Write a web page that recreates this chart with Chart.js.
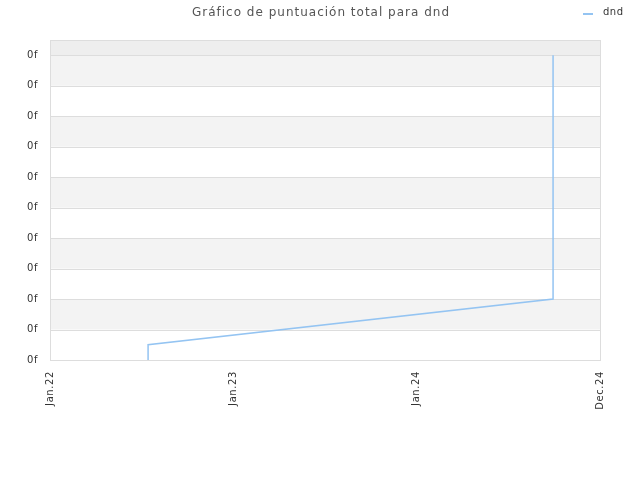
<!DOCTYPE html>
<html>
<head>
<meta charset="utf-8">
<script src="https://cdn.jsdelivr.net/npm/chart.js@4"></script>
<style>
  html, body { margin: 0; padding: 0; background: #fff; }
  #grafico { display: block; }
</style>
</head>
<body>
<canvas id="grafico" width="640" height="480"></canvas>
<script>
// Datos del gráfico
const titulo = 'Gráfico de puntuación total para dnd';
const serieNombre = 'dnd';
const etiquetasX = ['Jan.22', 'Jan.23', 'Jan.24', 'Dec.24'];
const posicionesX = [0, 1, 2, 3];
const valoresX = [0.535, 0.535, 2.744, 2.744];
const valoresY = [0, 0.5, 2, 10];
const ticksY = [0, 1, 2, 3, 4, 5, 6, 7, 8, 9, 10];
const etiquetaY = '0f';

const colorLinea = '#94c4f2';

// Bandas alternas de fondo, título, leyenda y marco
const fondoPlugin = {
    id: 'fondo',
    beforeLayout(chart) {
        chart.ctx.letterSpacing = '0.6px';
    },
    beforeDraw(chart) {
        chart.ctx.letterSpacing = '0.6px';
    },
    beforeDatasetsDraw(chart) {
        const { ctx, chartArea, scales } = chart;
        const y = scales.y;
        ctx.save();
        for (let i = 0; i < ticksY.length - 1; i++) {
            if (i % 2 === 1) {
                const top = y.getPixelForValue(ticksY[i + 1]);
                const bottom = y.getPixelForValue(ticksY[i]);
                ctx.fillStyle = '#f3f3f3';
                ctx.fillRect(chartArea.left, top, chartArea.right - chartArea.left, bottom - top);
            }
        }
        const ultimo = y.getPixelForValue(ticksY[ticksY.length - 1]);
        ctx.fillStyle = '#eeeeee';
        ctx.fillRect(chartArea.left, chartArea.top, chartArea.right - chartArea.left, ultimo - chartArea.top);
        // lineas de la rejilla encima de las bandas
        ctx.strokeStyle = '#dddddd';
        ctx.lineWidth = 1;
        ticksY.forEach(v => {
            const py = Math.round(y.getPixelForValue(v)) + 0.5;
            ctx.beginPath();
            ctx.moveTo(chartArea.left, py);
            ctx.lineTo(chartArea.right, py);
            ctx.stroke();
        });
        ctx.strokeRect(Math.round(chartArea.left) + 0.5, Math.round(chartArea.top) + 0.5,
            Math.round(chartArea.right - chartArea.left), Math.round(chartArea.bottom - chartArea.top));
        ctx.restore();
    },
    afterDraw(chart) {
        const { ctx } = chart;
        ctx.save();
        ctx.letterSpacing = '1px';
        ctx.font = '12px "DejaVu Sans"';
        ctx.fillStyle = '#555555';
        ctx.textAlign = 'center';
        ctx.textBaseline = 'middle';
        ctx.fillText(titulo, 321, 13);

        ctx.strokeStyle = colorLinea;
        ctx.lineWidth = 2;
        ctx.beginPath();
        ctx.moveTo(583, 14);
        ctx.lineTo(593, 14);
        ctx.stroke();
        ctx.letterSpacing = '0.5px';
        ctx.font = '10px "DejaVu Sans"';
        ctx.fillStyle = '#333333';
        ctx.textAlign = 'left';
        ctx.fillText(serieNombre, 603, 12);
        ctx.restore();
    }
};

const puntos = valoresX.map((x, i) => ({ x: x, y: valoresY[i] }));

new Chart(document.getElementById('grafico'), {
    type: 'line',
    data: {
        datasets: [{
            label: serieNombre,
            data: puntos,
            borderColor: colorLinea,
            borderWidth: 1.5,
            pointRadius: 0,
            fill: false,
            tension: 0
        }]
    },
    options: {
        responsive: false,
        animation: false,
        devicePixelRatio: 1,
        layout: { padding: { top: 40, right: 40, left: 0, bottom: 0 } },
        plugins: {
            legend: { display: false },
            title: { display: false },
            tooltip: { enabled: false }
        },
        scales: {
            x: {
                type: 'linear',
                min: 0,
                max: 3,
                afterBuildTicks: scale => { scale.ticks = posicionesX.map(v => ({ value: v })); },
                afterFit: scale => { scale.height = 120; },
                grid: { display: false, drawTicks: false },
                border: { display: false },
                ticks: {
                    minRotation: 90,
                    maxRotation: 90,
                    padding: 11,
                    color: '#333333',
                    font: { family: 'DejaVu Sans', size: 10 },
                    callback: (v, i) => etiquetasX[i]
                }
            },
            y: {
                min: 0,
                max: 10.5,
                afterBuildTicks: scale => { scale.ticks = ticksY.map(v => ({ value: v })); },
                afterFit: scale => { scale.width = 50; },
                grid: { display: false, drawTicks: false },
                border: { display: false },
                ticks: {
                    padding: 12,
                    color: '#333333',
                    font: { family: 'DejaVu Sans', size: 10 },
                    callback: () => etiquetaY
                }
            }
        }
    },
    plugins: [fondoPlugin]
});
</script>
</body>
</html>
